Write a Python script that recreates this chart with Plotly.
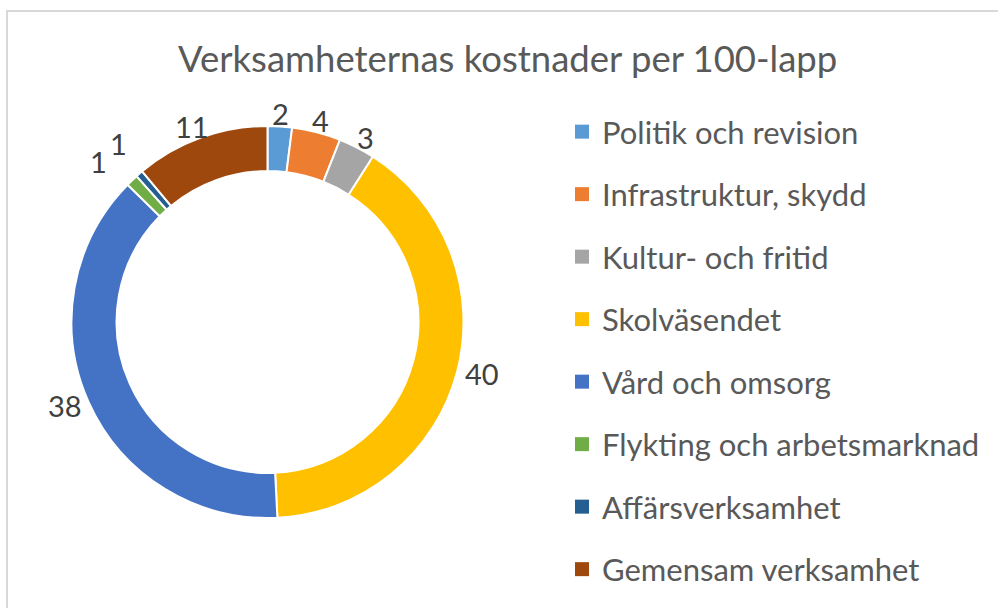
import math
import plotly.graph_objects as go

# Data
categories = ["Politik och revision", "Infrastruktur, skydd", "Kultur- och fritid",
              "Skolväsendet", "Vård och omsorg", "Flykting och arbetsmarknad",
              "Affärsverksamhet", "Gemensam verksamhet"]
values = [2, 4, 3, 40, 38, 1, 0.6, 11]
colors = ["#5B9BD5", "#ED7D31", "#A5A5A5", "#FFC000", "#4472C4", "#70AD47", "#255E91", "#9E480E"]
title_text = "Verksamheternas kostnader per 100-lapp"

W, H = 998, 608
FONT = "Lato"
GRAY = "#595959"
LABEL_GRAY = "#404040"
LABEL_FS = 29

fig = go.Figure()

# Donut geometry (pixels)
cx, cy, r = 267.5, 322, 196
fig.add_trace(go.Pie(
    labels=categories, values=values, sort=False, direction="clockwise", rotation=0,
    hole=0.77,
    marker=dict(colors=colors, line=dict(color="white", width=2)),
    textinfo="none", showlegend=False, hoverinfo="label+value",
    domain=dict(x=[(cx - r) / W, (cx + r) / W], y=[(H - cy - r) / H, (H - cy + r) / H]),
))

# Outside data labels positioned from the slice angles
total = sum(values)
labels = []
cum = 0.0
for v in values:
    theta = 2 * math.pi * (cum + v / 2) / total
    cum += v
    txt = f"{v:.0f}" if v >= 1 else "1"
    labels.append(dict(theta=theta, dr=0.0, txt=txt, hit=False,
                       w=0.55 * LABEL_FS * len(txt), h=0.72 * LABEL_FS))


def place(lb):
    ux, uy = math.sin(lb["theta"]), -math.cos(lb["theta"])
    R = r + 4 + lb["dr"]
    px, py = cx + R * ux, cy + R * uy
    return px + ux * (lb["w"] / 2 + 6), py + uy * abs(uy) * (lb["h"] * 0.42)


def overlap(a, b):
    ax, ay = place(a)
    bx, by = place(b)
    return abs(ax - bx) < (a["w"] + b["w"]) / 2 + 2 and abs(ay - by) < (a["h"] + b["h"]) / 2 + 2


for _ in range(200):
    moved = False
    for i in range(len(labels)):
        j = (i + 1) % len(labels)
        if overlap(labels[i], labels[j]):
            labels[i]["theta"] -= math.radians(0.3)
            labels[j]["theta"] += math.radians(0.3)
            labels[i]["dr"] += 0.5
            labels[j]["dr"] += 0.5
            labels[i]["hit"] = labels[j]["hit"] = True
            moved = True
    if not moved:
        break
for lb in labels:
    if lb["hit"]:
        lb["dr"] += 20

annotations = []
for lb in labels:
    x, y = place(lb)
    annotations.append(dict(
        text=lb["txt"], x=x / W, y=1 - y / H, xref="paper", yref="paper",
        xanchor="center", yanchor="middle", showarrow=False,
        font=dict(family=FONT, size=LABEL_FS, color=LABEL_GRAY),
    ))

annotations.append(dict(
    text=title_text, x=508 / W, y=1 - 58 / H, xref="paper", yref="paper",
    xanchor="center", yanchor="middle", showarrow=False,
    font=dict(family=FONT, size=36.5, color=GRAY),
))

# Legend entries
for cat, col in zip(categories, colors):
    fig.add_trace(go.Scatter(
        x=[None], y=[None], mode="markers", name=cat, legendgroup=cat,
        marker=dict(symbol="square", size=14, color=col),
        hoverinfo="skip",
    ))

fig.update_layout(
    width=W, height=H,
    margin=dict(l=0, r=0, t=0, b=0),
    paper_bgcolor="white", plot_bgcolor="white",
    xaxis=dict(visible=False), yaxis=dict(visible=False),
    legend=dict(
        x=562 / W, y=1 - 105 / H, xanchor="left", yanchor="top",
        font=dict(family=FONT, size=31, color=GRAY),
        tracegroupgap=19.2, bgcolor="rgba(0,0,0,0)",
    ),
    annotations=annotations,
    shapes=[dict(
        type="rect", xref="paper", yref="paper",
        x0=7 / W, x1=1.05, y0=-0.05, y1=1 - 11 / H,
        line=dict(color="#D9D9D9", width=2), fillcolor="rgba(0,0,0,0)", layer="below",
    )],
)

fig.write_html(
    "out.html",
    config={"displayModeBar": False},
    post_script="document.body.style.margin='0';document.body.style.overflow='hidden';",
)
